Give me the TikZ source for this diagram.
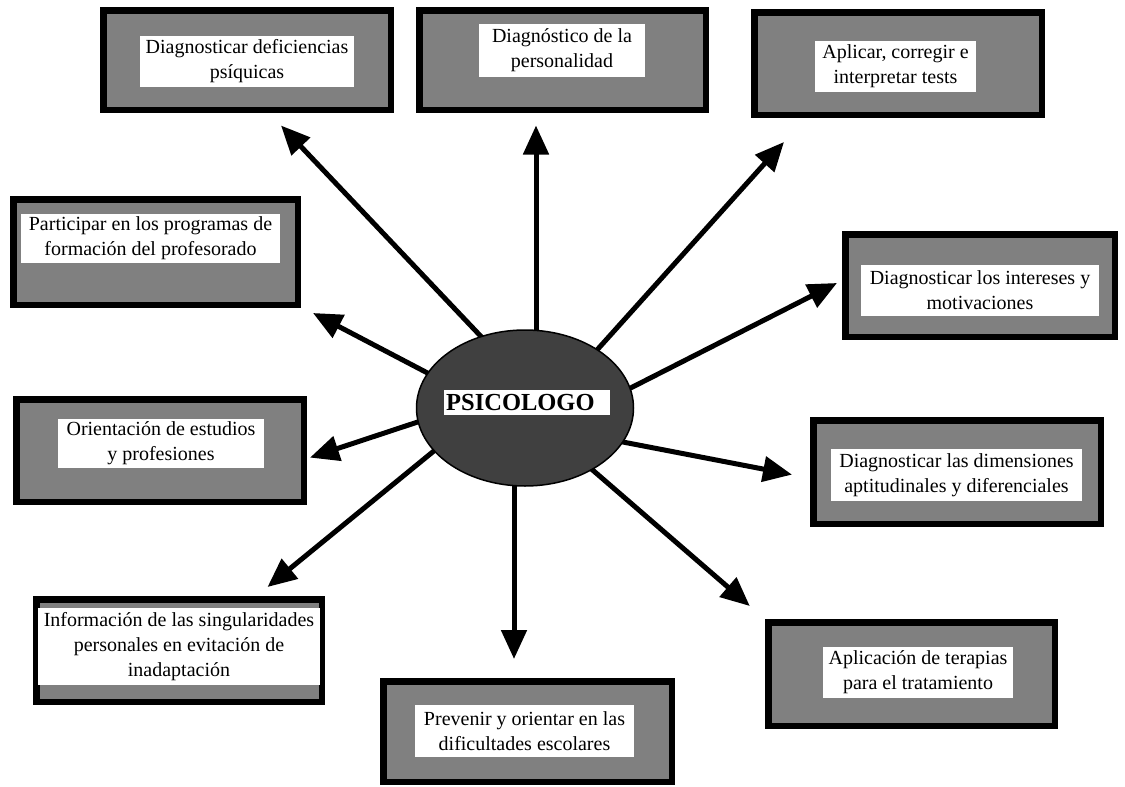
\documentclass[tikz,border=0pt]{standalone}
\usepackage{fontspec}
\setmainfont{Liberation Serif}
\usetikzlibrary{arrows.meta,shapes.geometric}
\definecolor{boxgray}{HTML}{808080}
\definecolor{hubgray}{HTML}{404040}
\tikzset{
  framebox/.style={draw=black, fill=boxgray, line width=6.5pt, inner sep=0pt, outer sep=0pt},
  labelbox/.style={fill=white, inner sep=0pt, outer sep=0pt, align=center,
                   font=\fontsize{20}{25}\selectfont},
  spoke/.style={line width=5pt, -{Triangle[length=29pt,width=25pt]}, shorten <=-10pt},
  hub/.style={ellipse, draw=black, line width=1.5pt, fill=hubgray, inner sep=0pt,
              minimum width=217pt, minimum height=156pt},
}
\begin{document}
\begin{tikzpicture}[x=1pt, y=-1pt]
\useasboundingbox (0,0) rectangle (1125,787);

% outer framed panels
\node[framebox, minimum width=287.5pt, minimum height=99.5pt]  (b1)  at (247,60)    {};
\node[framebox, minimum width=286.5pt, minimum height=99.5pt]  (b2)  at (562.5,60)  {};
\node[framebox, minimum width=287.5pt, minimum height=102.5pt] (b3)  at (898,63.5)  {};
\node[framebox, minimum width=284.5pt, minimum height=105.5pt] (b4)  at (155.5,252) {};
\node[framebox, minimum width=269.5pt, minimum height=102.5pt] (b5)  at (980,285.5) {};
\node[framebox, minimum width=287.5pt, minimum height=102.5pt] (b6)  at (160,450.5) {};
\node[framebox, minimum width=287.5pt, minimum height=103.5pt] (b7)  at (957,472)   {};
\node[framebox, minimum width=285.5pt, minimum height=102.5pt] (b8)  at (179,650.5) {};
\node[framebox, minimum width=288.5pt, minimum height=100.5pt] (b9)  at (527.5,731.5) {};
\node[framebox, minimum width=286.5pt, minimum height=103.5pt] (b10) at (911.5,674) {};

% white text labels
\node[labelbox, minimum width=214pt, minimum height=51pt] (l1) at (247,61.5)
  {Diagnosticar deficiencias\\psíquicas};
\node[labelbox, minimum width=166pt, minimum height=53pt] (l2) at (562,50.5)
  {Diagnóstico de la\\personalidad};
\node[labelbox, minimum width=161pt, minimum height=51pt] (l3) at (895.5,66.5)
  {Aplicar, corregir e\\interpretar tests};
\node[labelbox, minimum width=259pt, minimum height=49pt] (l4) at (150.5,238.5)
  {Participar en los programas de\\formación del profesorado};
\node[labelbox, minimum width=238pt, minimum height=51pt] (l5) at (980,290.5)
  {Diagnosticar los intereses y\\motivaciones};
\node[labelbox, minimum width=206pt, minimum height=49pt] (l6) at (161,443.5)
  {Orientación de estudios\\y profesiones};
\node[labelbox, minimum width=251pt, minimum height=52pt] (l7) at (956.5,475)
  {Diagnosticar las dimensiones\\aptitudinales y diferenciales};
\node[labelbox, minimum width=282pt, minimum height=77pt] (l8) at (179,646.5)
  {Información de las singularidades\\personales en evitación de\\inadaptación};
\node[labelbox, minimum width=219pt, minimum height=52pt] (l9) at (524.5,731)
  {Prevenir y orientar en las\\dificultades escolares};
\node[labelbox, minimum width=190pt, minimum height=51pt] (l10) at (918,672.5)
  {Aplicación de terapias\\para el tratamiento};

% spoke end points
\coordinate (s1)  at (481.5,337);  \coordinate (t1)  at (281,125.5);
\coordinate (s2)  at (536,330);    \coordinate (t2)  at (536,125.5);
\coordinate (s3)  at (597,350);    \coordinate (t3)  at (784,142);
\coordinate (s4)  at (630.6,388);  \coordinate (t4)  at (837,283);
\coordinate (s5)  at (430.6,374.6);\coordinate (t5)  at (313,313);
\coordinate (s6)  at (417.7,422);  \coordinate (t6)  at (310,457.6);
\coordinate (s7)  at (433,451.7);  \coordinate (t7)  at (267.5,587);
\coordinate (s8)  at (514,486);    \coordinate (t8)  at (514,659);
\coordinate (s9)  at (592,469.5);  \coordinate (t9)  at (749.8,606);
\coordinate (s10) at (621.8,441.8);\coordinate (t10) at (792,474.6);

\foreach \i in {1,...,10} { \draw[spoke] (s\i) -- (t\i); }

% central hub
\node[hub] (ps) at (525,408) {};
\fill[white] (444,390) rectangle (610,415);
\node[anchor=base west, inner sep=0pt, font=\fontsize{24.5}{28}\selectfont\bfseries] (pt) at (446,410) {PSICOLOGO};
\end{tikzpicture}
\end{document}
